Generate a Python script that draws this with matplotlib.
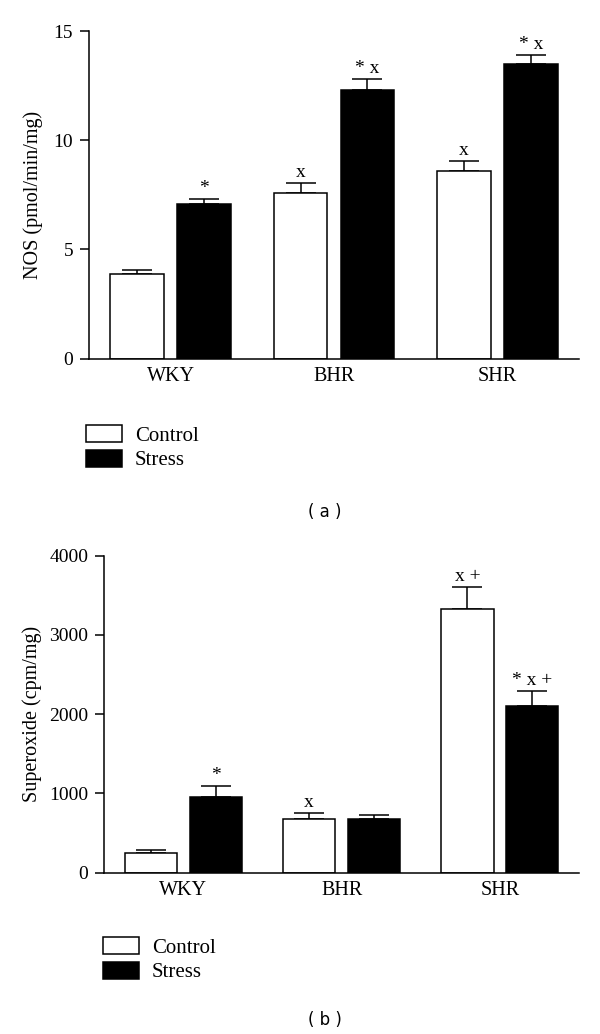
import numpy as np
import matplotlib.pyplot as plt
from matplotlib.patches import Patch

plt.rcParams["font.family"] = ["Liberation Serif", "DejaVu Serif"]
plt.rcParams["font.size"] = 14

# ---------- data ----------
groups = ["WKY", "BHR", "SHR"]

nos_control = [3.88, 7.58, 8.57]
nos_control_err = [0.17, 0.44, 0.47]
nos_stress = [7.08, 12.28, 13.49]
nos_stress_err = [0.24, 0.51, 0.41]
nos_control_marks = ["", "x", "x"]
nos_stress_marks = ["*", "* x", "* x"]

sup_control = [248, 681, 3321]
sup_control_err = [42, 72, 278]
sup_stress = [951, 673, 2106]
sup_stress_err = [146, 58, 185]
sup_control_marks = ["", "x", "x +"]
sup_stress_marks = ["*", "", "* x +"]

legend_labels = ["Control", "Stress"]

# ---------- style ----------
LW = 1.1
W = 0.33
OFF = 0.205


def draw_panel(ax, ctrl, ctrl_err, stress, stress_err, ctrl_marks, stress_marks,
               ylim, yticks, ylabel):
    x = np.arange(len(groups))
    for xs, vals, errs, marks, color in [
        (x - OFF, ctrl, ctrl_err, ctrl_marks, "white"),
        (x + OFF, stress, stress_err, stress_marks, "black"),
    ]:
        ax.bar(xs, vals, width=W, color=color, edgecolor="black", linewidth=LW,
               zorder=2)
        ax.errorbar(xs, vals, yerr=[np.zeros(len(vals)), errs], fmt="none",
                    ecolor="black", elinewidth=LW, capsize=10.5, capthick=LW,
                    zorder=1)
        for xi, v, e, m in zip(xs, vals, errs, marks):
            if m:
                ax.annotate(m, (xi, v + e), xytext=(0, 1.5),
                            textcoords="offset points", ha="center",
                            va="bottom", fontsize=14)
    ax.set_xlim(-0.5, 2.5)
    ax.set_ylim(*ylim)
    ax.set_yticks(yticks)
    ax.set_xticks(x)
    ax.set_xticklabels(groups)
    ax.tick_params(axis="x", length=0, pad=6, labelsize=14.5)
    ax.tick_params(axis="y", length=6.5, width=LW, pad=5, labelsize=14)
    for s in ["top", "right"]:
        ax.spines[s].set_visible(False)
    for s in ["left", "bottom"]:
        ax.spines[s].set_linewidth(LW)
    ax.set_ylabel(ylabel, fontsize=14.5)


fig = plt.figure(figsize=(6, 10.34), dpi=100)

ax1 = fig.add_axes([0.1483, 0.6531, 0.8167, 0.3169])
draw_panel(ax1, nos_control, nos_control_err, nos_stress, nos_stress_err,
           nos_control_marks, nos_stress_marks, (0, 15), [0, 5, 10, 15],
           "NOS (pmol/min/mg)")
ax1.yaxis.set_label_coords(-0.094, 0.5)

ax2 = fig.add_axes([0.1738, 0.156, 0.7912, 0.3066])
draw_panel(ax2, sup_control, sup_control_err, sup_stress, sup_stress_err,
           sup_control_marks, sup_stress_marks, (0, 4000),
           [0, 1000, 2000, 3000, 4000], "Superoxide (cpm/mg)")
ax2.yaxis.set_label_coords(-0.131, 0.5)

handles = [Patch(facecolor="white", edgecolor="black", linewidth=LW),
           Patch(facecolor="black", edgecolor="black", linewidth=LW)]

for lx, ly in [(86, 425), (103, 937)]:
    fig.legend(handles, legend_labels, loc="upper left",
               bbox_to_anchor=(lx / 600, 1 - ly / 1034), frameon=False,
               borderpad=0, borderaxespad=0, handlelength=1.73,
               handleheight=0.87, handletextpad=0.62, labelspacing=0.2,
               fontsize=15)

fig.text(325 / 600, 1 - 512 / 1034, "( a )", ha="center", va="center",
         family="DejaVu Sans", fontsize=12)
fig.text(325 / 600, 1 - 1020 / 1034, "( b )", ha="center", va="center",
         family="DejaVu Sans", fontsize=12)

fig.savefig("out.png", dpi=100)
